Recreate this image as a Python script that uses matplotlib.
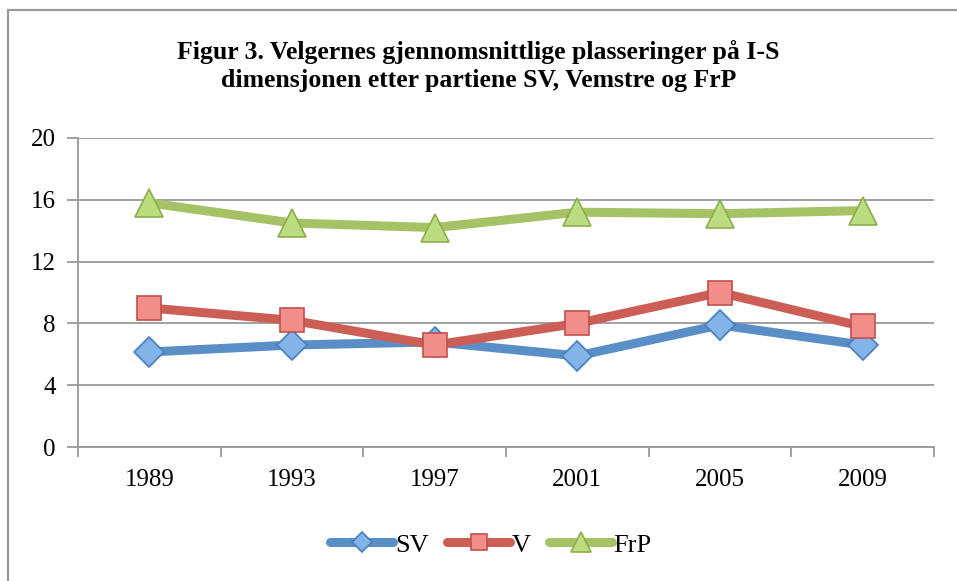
import matplotlib.pyplot as plt
from matplotlib.patches import Rectangle

# ---- data ----
years = ['1989', '1993', '1997', '2001', '2005', '2009']
sv = [6.15, 6.6, 6.8, 5.9, 7.9, 6.6]
v = [9.0, 8.2, 6.6, 8.0, 10.0, 7.8]
frp = [15.8, 14.5, 14.2, 15.2, 15.1, 15.3]
yticks = [0, 4, 8, 12, 16, 20]

title = ('Figur 3. Velgernes gjennomsnittlige plasseringer på I-S\n'
         'dimensjonen etter partiene SV, Vemstre og FrP')

plt.rcParams['font.family'] = ['Liberation Serif', 'DejaVu Serif']

fig = plt.figure(figsize=(9.57, 5.81), dpi=100)
ax = fig.add_axes([0.0815, 0.2306, 0.8945, 0.5319])

# outer frame of the chart area
fig.patches.append(Rectangle((8 / 957, -0.05), 1.2, 1.05 - 10 / 581,
                             transform=fig.transFigure, fill=False,
                             edgecolor='#999999', linewidth=1.6))

x = range(len(years))
series = [
    ('SV', sv, '#5A8EC6', 'D', '#82B4EA', '#4A7EBB', 15),
    ('V', v, '#CD5E55', 's', '#F28E89', '#C0504D', 17),
    ('FrP', frp, '#A5C264', '^', '#BCDC80', '#8DAE4E', 20),
]
for name, vals, col, mk, fc, ec, ms in series:
    ax.plot(x, vals, color=col, linewidth=6.5, marker=mk, markersize=ms,
            markerfacecolor=fc, markeredgecolor=ec, markeredgewidth=1.2,
            label=name, solid_capstyle='round', zorder=3)

ax.set_xlim(-0.5, len(years) - 0.5)
ax.set_ylim(0, 20)
ax.set_yticks(yticks)
ax.set_xticks(list(x))
ax.set_xticklabels(years)
ax.set_xticks([i - 0.5 for i in range(len(years) + 1)], minor=True)
ax.tick_params(axis='x', which='major', length=0, pad=16, labelsize=18)
ax.tick_params(axis='x', which='minor', length=7, width=1.3, color='#999999')
ax.tick_params(axis='y', length=8, width=1.3, color='#999999', labelsize=18, pad=8)

ax.grid(axis='y', color='#999999', linewidth=1.3)
ax.set_axisbelow(True)
for side in ['top', 'right']:
    ax.spines[side].set_visible(False)
for side in ['left', 'bottom']:
    ax.spines[side].set_color('#999999')
    ax.spines[side].set_linewidth(1.3)

fig.text(0.5, 0.886, title, ha='center', va='center', fontsize=18.5,
         fontweight='bold', linespacing=1.3)

leg = fig.legend(loc='center', bbox_to_anchor=(0.513, 0.062), ncol=3,
                 frameon=False, fontsize=19, handlelength=2.4,
                 columnspacing=0.7, handletextpad=0.05, markerscale=0.7)

fig.savefig('out.png', dpi=100)
